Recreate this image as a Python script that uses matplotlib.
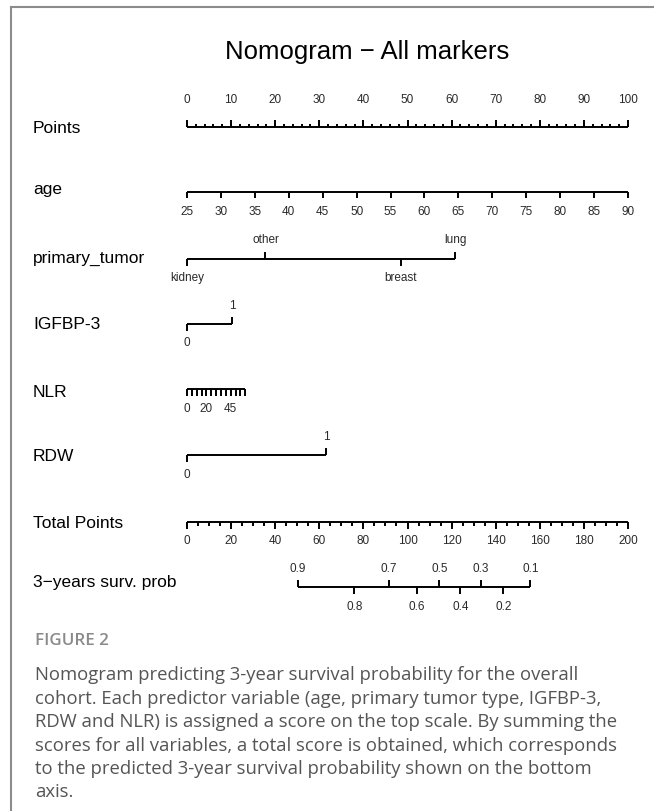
import numpy as np
import matplotlib
matplotlib.use("Agg")
import matplotlib.pyplot as plt
from matplotlib.transforms import blended_transform_factory

# ---------------- data ----------------
title = "Nomogram \u2212 All markers"
row_names = ["Points", "age", "primary_tumor", "IGFBP-3", "NLR", "RDW",
             "Total Points", "3\u2212years surv. prob"]

points_major = list(range(0, 101, 10))
points_minor = list(range(0, 101, 2))

age_ticks = list(range(25, 91, 5))
age_range = (25, 90)           # age values at the two ends of the scale
age_points_range = (0, 100)    # points at the two ends

tumor_levels = ["kidney", "other", "breast", "lung"]
tumor_points = [0, 17.8, 48.5, 60.8]
tumor_side = ["below", "above", "below", "above"]

igfbp_levels = ["0", "1"]
igfbp_points = [0, 10.2]
igfbp_side = ["below", "above"]

nlr_ticks = list(range(0, 61, 5))
nlr_labels = [0, 20, 45]
nlr_range = (0, 60)
nlr_points_range = (0, 13.2)

rdw_levels = ["0", "1"]
rdw_points = [0, 31.5]
rdw_side = ["below", "above"]

total_major = list(range(0, 201, 20))
total_minor = list(range(0, 201, 5))

surv_probs = [0.9, 0.8, 0.7, 0.6, 0.5, 0.4, 0.3, 0.2, 0.1]
surv_total_points = [50.2, 75.9, 91.7, 104.2, 114.4, 124.0, 133.2, 143.5, 155.7]
surv_side = ["above", "below", "above", "below", "above", "below", "above", "below", "above"]

caption_head = "FIGURE 2"
caption_lines = [
    "Nomogram predicting 3-year survival probability for the overall",
    "cohort. Each predictor variable (age, primary tumor type, IGFBP-3,",
    "RDW and NLR) is assigned a score on the top scale. By summing the",
    "scores for all variables, a total score is obtained, which corresponds",
    "to the predicted 3-year survival probability shown on the bottom",
    "axis.",
]

# ---------------- layout ----------------
W, H = 654, 811
DPI = 100
fig = plt.figure(figsize=(W / DPI, H / DPI), dpi=DPI)
fig.patch.set_facecolor("white")

X0, X1 = 187, 628
ax = fig.add_axes([X0 / W, 0, (X1 - X0) / W, 1])
ax.set_xlim(0, 100)
ax.set_ylim(H, 0)
ax.axis("off")

LW = 1.4
TICKFONT = dict(family="Liberation Sans", fontsize=8.5, color="#2a2a2a")
LABFONT = dict(family="Liberation Sans", fontsize=12.5, color="black")

line_y = [127, 192, 259, 324, 389, 455, 522, 587]
label_base = [133, 194, 263, 329, 397, 461, 528, 587]

def hline(x0, x1, y):
    ax.plot([x0, x1], [y, y], color="black", lw=LW, solid_capstyle="butt", clip_on=False)

def tick(x, y, length):
    ax.plot([x, x], [y, y + length], color="black", lw=LW, solid_capstyle="butt", clip_on=False)

def tlabel(x, y, s, **kw):
    ax.text(x, y, s, ha="center", va="center", clip_on=False, **TICKFONT, **kw)

def lin(v, vr, pr):
    return pr[0] + (v - vr[0]) * (pr[1] - pr[0]) / (vr[1] - vr[0])

# Points
y = line_y[0]
hline(0, 100, y)
for v in points_minor:
    tick(v, y, -3.5)
for v in points_major:
    tick(v, y, -7)
    tlabel(v, 100, str(v))

# age
y = line_y[1]
ap = [lin(a, age_range, age_points_range) for a in age_ticks]
hline(ap[0], ap[-1], y)
for a, p in zip(age_ticks, ap):
    tick(p, y, 6)
    tlabel(p, 212, str(a))

# categorical rows
def cat_row(y, levels, pts, sides, up_y, dn_y):
    hline(min(pts), max(pts), y)
    for lev, p, s in zip(levels, pts, sides):
        if s == "above":
            tick(p, y, -7)
            tlabel(p, up_y, lev)
        else:
            tick(p, y, 7)
            tlabel(p, dn_y, lev)

cat_row(line_y[2], tumor_levels, tumor_points, tumor_side, 240, 278)
cat_row(line_y[3], igfbp_levels, igfbp_points, igfbp_side, 306, 343)

# NLR
y = line_y[4]
npnts = [lin(v, nlr_range, nlr_points_range) for v in nlr_ticks]
hline(npnts[0], npnts[-1], y)
for p in npnts:
    tick(p, y, 7)
for v in nlr_labels:
    tlabel(lin(v, nlr_range, nlr_points_range), 409, str(v))

cat_row(line_y[5], rdw_levels, rdw_points, rdw_side, 437, 475)

# Total points (0-200 mapped onto the 0-100 points axis)
y = line_y[6]
hline(0, 100, y)
for v in total_minor:
    tick(v / 2, y, 3.5)
for v in total_major:
    tick(v / 2, y, 7)
    tlabel(v / 2, 541, str(v))

# survival probability
y = line_y[7]
sp = [t / 2 for t in surv_total_points]
hline(min(sp), max(sp), y)
for pr, p, s in zip(surv_probs, sp, surv_side):
    if s == "above":
        tick(p, y, -7)
        tlabel(p, 569, f"{pr:.1f}")
    else:
        tick(p, y, 7)
        tlabel(p, 607, f"{pr:.1f}")

# row labels
trans = blended_transform_factory(fig.transFigure, ax.transData)
for name, b in zip(row_names, label_base):
    ax.text(33 / W, b, name, transform=trans, ha="left", va="baseline", **LABFONT)

# title
renderer = fig.canvas.get_renderer()
def fit(t, target_px):
    for _ in range(3):
        w = t.get_window_extent(renderer).width
        t.set_fontsize(t.get_fontsize() * target_px / w)

tt = fig.text(367 / W, 1 - 52 / H, title, ha="center", va="center",
              family="Liberation Sans", fontsize=18, color="black")
fit(tt, 284)

# frame (top and left border)
fig.add_artist(plt.Line2D([11 / W, 1], [1 - 7 / H, 1 - 7 / H], color="#8c8c8c", lw=1.5,
                          transform=fig.transFigure))
fig.add_artist(plt.Line2D([11 / W, 11 / W], [0, 1 - 7 / H], color="#8c8c8c", lw=1.5,
                          transform=fig.transFigure))

# caption
ch = fig.text(35 / W, 1 - 641 / H, caption_head, ha="left", va="center",
              family="Open Sans", fontweight="semibold", fontsize=9, color="#8a8a8a")
fit(ch, 74)
cap_y = [673, 697, 720, 744, 767, 790]
cts = []
for s, cy in zip(caption_lines, cap_y):
    cts.append(fig.text(35 / W, 1 - cy / H, s, ha="left", va="center_baseline",
                        family="Open Sans", fontsize=12, color="#555555"))
fit(cts[3], 581)
for c in cts:
    c.set_fontsize(cts[3].get_fontsize())

fig.savefig("out.png", dpi=DPI, facecolor="white")
